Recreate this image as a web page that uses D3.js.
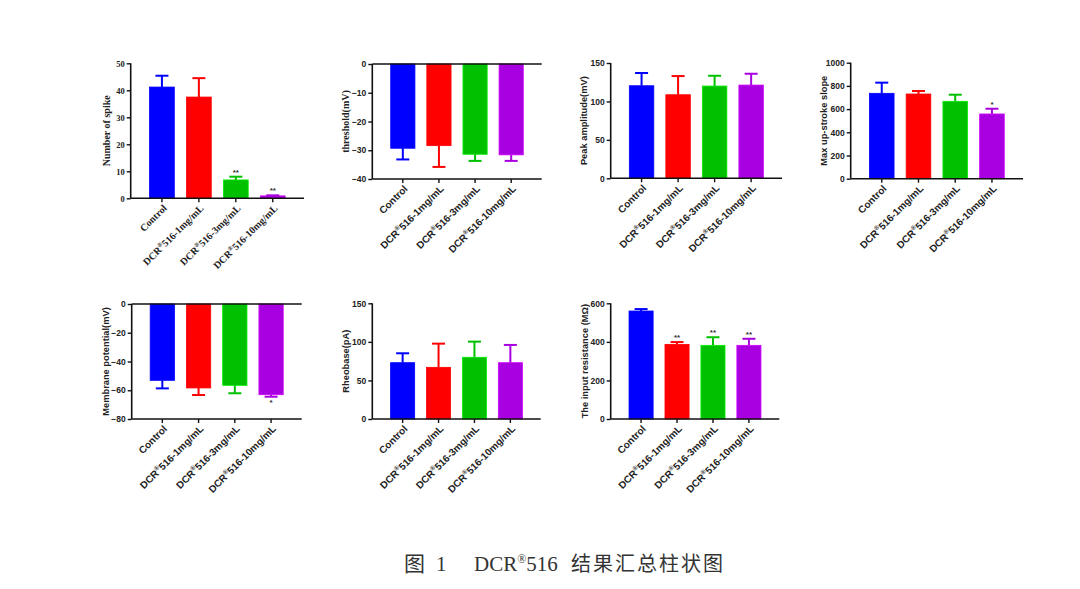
<!DOCTYPE html>
<html><head><meta charset="utf-8">
<script src="https://cdn.jsdelivr.net/npm/d3@7"></script>
<style>
html,body{margin:0;padding:0;background:#fff;}
svg{display:block;}
</style></head>
<body>
<svg id="c" width="1080" height="589"></svg>
<script>
// ---- data ----
const categories = ["Control", "DCR®516-1mg/mL", "DCR®516-3mg/mL", "DCR®516-10mg/mL"];
const barColors = ["#0000FF", "#FF0000", "#00C000", "#A800E0"];

const spikeMean = [41.2, 37.5, 6.8, 0.9];
const spikeSEM = [4.2, 7.0, 1.2, 0.2];
const spikeSig = ["", "", "**", "**"];
const spikeTicks = [0, 10, 20, 30, 40, 50];

const thresholdMean = [-29.3, -28.4, -31.4, -31.6];
const thresholdSEM = [3.9, 7.4, 2.3, 2.1];
const thresholdTicks = [0, -10, -20, -30, -40];

const peakMean = [120.4, 108.7, 120.0, 121.3];
const peakSEM = [16.6, 24.3, 13.4, 14.7];
const peakTicks = [0, 50, 100, 150];

const slopeMean = [736, 730, 667, 558];
const slopeSEM = [92, 26, 57, 45];
const slopeSig = ["", "", "", "*"];
const slopeTicks = [0, 200, 400, 600, 800, 1000];

const membraneMean = [-53.1, -58.4, -56.6, -63.1];
const membraneSEM = [5.6, 4.9, 5.5, 1.4];
const membraneSig = ["", "", "", "*"];
const membraneTicks = [0, -20, -40, -60, -80];

const rheobaseMean = [73, 67, 80, 73];
const rheobaseSEM = [12.2, 30.7, 20.3, 23.0];
const rheobaseTicks = [0, 50, 100, 150];

const resistanceMean = [560, 387, 382, 382];
const resistanceSEM = [10, 12, 42, 34];
const resistanceSig = ["", "**", "**", "**"];
const resistanceTicks = [0, 200, 400, 600];

const captionParts = ["图", "1", "DCR", "®", "516", "结果汇总柱状图"];

// ---- drawing ----
const svg = d3.select("#c");
const SANS = "Arial, 'Liberation Sans', sans-serif";
const SERIF = "'Times New Roman', 'Liberation Serif', serif";

function panel(cfg) {
  const g = svg.append("g");
  const x = d3.scaleBand().domain(categories).range([cfg.x0, cfg.x1])
    .paddingInner(0.33).paddingOuter(0.51);
  const y = d3.scaleLinear().domain(cfg.domain).range([cfg.yBot, cfg.yTop]);
  const neg = cfg.domain[0] < 0;
  const base = y(0);
  const tickFont = cfg.tickFont || SANS;
  const labFont = cfg.labelFont || SANS;
  const xFont = cfg.xFont || SANS;

  // bars
  categories.forEach((c, i) => {
    const v = cfg.mean[i];
    const top = Math.min(y(v), base), h = Math.abs(y(v) - base);
    g.append("rect").attr("x", x(c)).attr("y", top).attr("width", x.bandwidth())
      .attr("height", Math.max(h, 0.8)).attr("fill", barColors[i])
      .attr("stroke", d3.color(barColors[i]).brighter(0.6)).attr("stroke-width", 0.8);
    // error bar (one sided)
    const cx = x(c) + x.bandwidth() / 2;
    const ev = v + (v >= 0 ? 1 : -1) * cfg.sem[i];
    g.append("line").attr("x1", cx).attr("x2", cx).attr("y1", y(v)).attr("y2", y(ev))
      .attr("stroke", barColors[i]).attr("stroke-width", 2);
    g.append("line").attr("x1", cx - 6.5).attr("x2", cx + 6.5).attr("y1", y(ev)).attr("y2", y(ev))
      .attr("stroke", barColors[i]).attr("stroke-width", 2);
    if (cfg.sig && cfg.sig[i]) {
      const sy = v >= 0 ? y(ev) - 2 : y(ev) + 8;
      g.append("text").attr("x", cx).attr("y", sy).attr("text-anchor", "middle")
        .attr("font-family", SANS).attr("font-weight", "bold").attr("font-size", 8)
        .attr("fill", "#333").text(cfg.sig[i]);
    }
  });

  // y axis
  const ya = g.append("g").attr("transform", `translate(${cfg.x0},0)`)
    .call(d3.axisLeft(y).tickValues(cfg.ticks).tickSize(4).tickPadding(2).tickFormat(d3.format("d")));
  ya.select(".domain").attr("stroke", "#111").attr("stroke-width", 1.6).attr("d", `M0,${cfg.yBot}V${cfg.yTop}`);
  ya.selectAll(".tick line").attr("stroke", "#111").attr("stroke-width", 1.4);
  ya.selectAll(".tick text").attr("font-family", tickFont).attr("font-weight", "bold")
    .attr("font-size", 8.5).attr("fill", "#222");

  // zero line for negative panels
  if (neg) {
    g.append("line").attr("x1", cfg.x0).attr("x2", cfg.x1).attr("y1", base).attr("y2", base)
      .attr("stroke", "#111").attr("stroke-width", 1.6);
  }
  // x axis at bottom
  const xa = g.append("g").attr("transform", `translate(0,${cfg.yBot})`)
    .call(d3.axisBottom(x).tickSize(4).tickFormat(""));
  xa.select(".domain").attr("stroke", "#111").attr("stroke-width", 1.6).attr("d", `M${cfg.x0},0H${cfg.x1}`);
  xa.selectAll(".tick line").attr("stroke", "#111").attr("stroke-width", 1.4);

  // x labels
  categories.forEach((c) => {
    const cx = x(c) + x.bandwidth() / 2;
    const t = g.append("text")
      .attr("transform", `translate(${cx + 3},${cfg.yBot + 8}) rotate(-45)`)
      .attr("text-anchor", "end").attr("dy", "0.35em")
      .attr("font-family", xFont).attr("font-weight", "bold").attr("font-size", 10)
      .attr("fill", "#222");
    const parts = c.split("®");
    if (parts.length === 2) {
      t.append("tspan").text(parts[0]);
      t.append("tspan").attr("font-size", 6.5).attr("dy", -4).text("®");
      t.append("tspan").attr("dy", 4).text(parts[1]);
    } else t.text(c);
  });

  // y label
  g.append("text")
    .attr("transform", `translate(${cfg.x0 - cfg.labOff},${(cfg.yTop + cfg.yBot) / 2}) rotate(-90)`)
    .attr("text-anchor", "middle").attr("dy", "0.35em")
    .attr("font-family", labFont).attr("font-weight", "bold").attr("font-size", cfg.labSize || 9.3)
    .attr("fill", "#222").text(cfg.label);
}

panel({ x0: 130.7, x1: 304, yTop: 63.3, yBot: 198.3, domain: [0, 50], ticks: spikeTicks,
  mean: spikeMean, sem: spikeSEM, sig: spikeSig, label: "Number of spike", labOff: 24,
  tickFont: SERIF, labelFont: SERIF, xFont: SERIF, labSize: 10 });
panel({ x0: 372.3, x1: 541.7, yTop: 64, yBot: 179, domain: [-40, 0], ticks: thresholdTicks,
  mean: thresholdMean, sem: thresholdSEM, label: "threshold(mV)", labOff: 27,
  labelFont: SERIF, labSize: 10 });
panel({ x0: 610.7, x1: 782, yTop: 63, yBot: 178.3, domain: [0, 150], ticks: peakTicks,
  mean: peakMean, sem: peakSEM, label: "Peak amplitude(mV)", labOff: 27 });
panel({ x0: 850.7, x1: 1023, yTop: 62.7, yBot: 178.7, domain: [0, 1000], ticks: slopeTicks,
  mean: slopeMean, sem: slopeSEM, sig: slopeSig, label: "Max up-stroke slope", labOff: 27 });
panel({ x0: 131.7, x1: 301.7, yTop: 304, yBot: 419, domain: [-80, 0], ticks: membraneTicks,
  mean: membraneMean, sem: membraneSEM, sig: membraneSig, label: "Membrane potential(mV)", labOff: 26 });
panel({ x0: 372.3, x1: 540.7, yTop: 303.3, yBot: 419, domain: [0, 150], ticks: rheobaseTicks,
  mean: rheobaseMean, sem: rheobaseSEM, label: "Rheobase(pA)", labOff: 27 });
panel({ x0: 610.7, x1: 779.3, yTop: 303.3, yBot: 419, domain: [0, 600], ticks: resistanceTicks,
  mean: resistanceMean, sem: resistanceSEM, sig: resistanceSig, label: "The input resistance (MΩ)", labOff: 26 });

// caption
const cap = svg.append("text").attr("y", 571).attr("fill", "#333").attr("font-size", 21);
const CJK = "'Noto Sans CJK SC', sans-serif";
cap.append("tspan").attr("x", 404).attr("font-family", CJK).text(captionParts[0]);
cap.append("tspan").attr("x", 436).attr("font-family", SERIF).text(captionParts[1]);
cap.append("tspan").attr("x", 474).attr("font-family", SERIF).text(captionParts[2]);
cap.append("tspan").attr("font-family", SERIF).attr("font-size", 12).attr("dy", -8).text(captionParts[3]);
cap.append("tspan").attr("font-family", SERIF).attr("dy", 8).text(captionParts[4]);
cap.append("tspan").attr("x", 571).attr("font-family", CJK).attr("font-size", 20)
  .attr("letter-spacing", 2).text(captionParts[5]);
</script>
</body></html>
